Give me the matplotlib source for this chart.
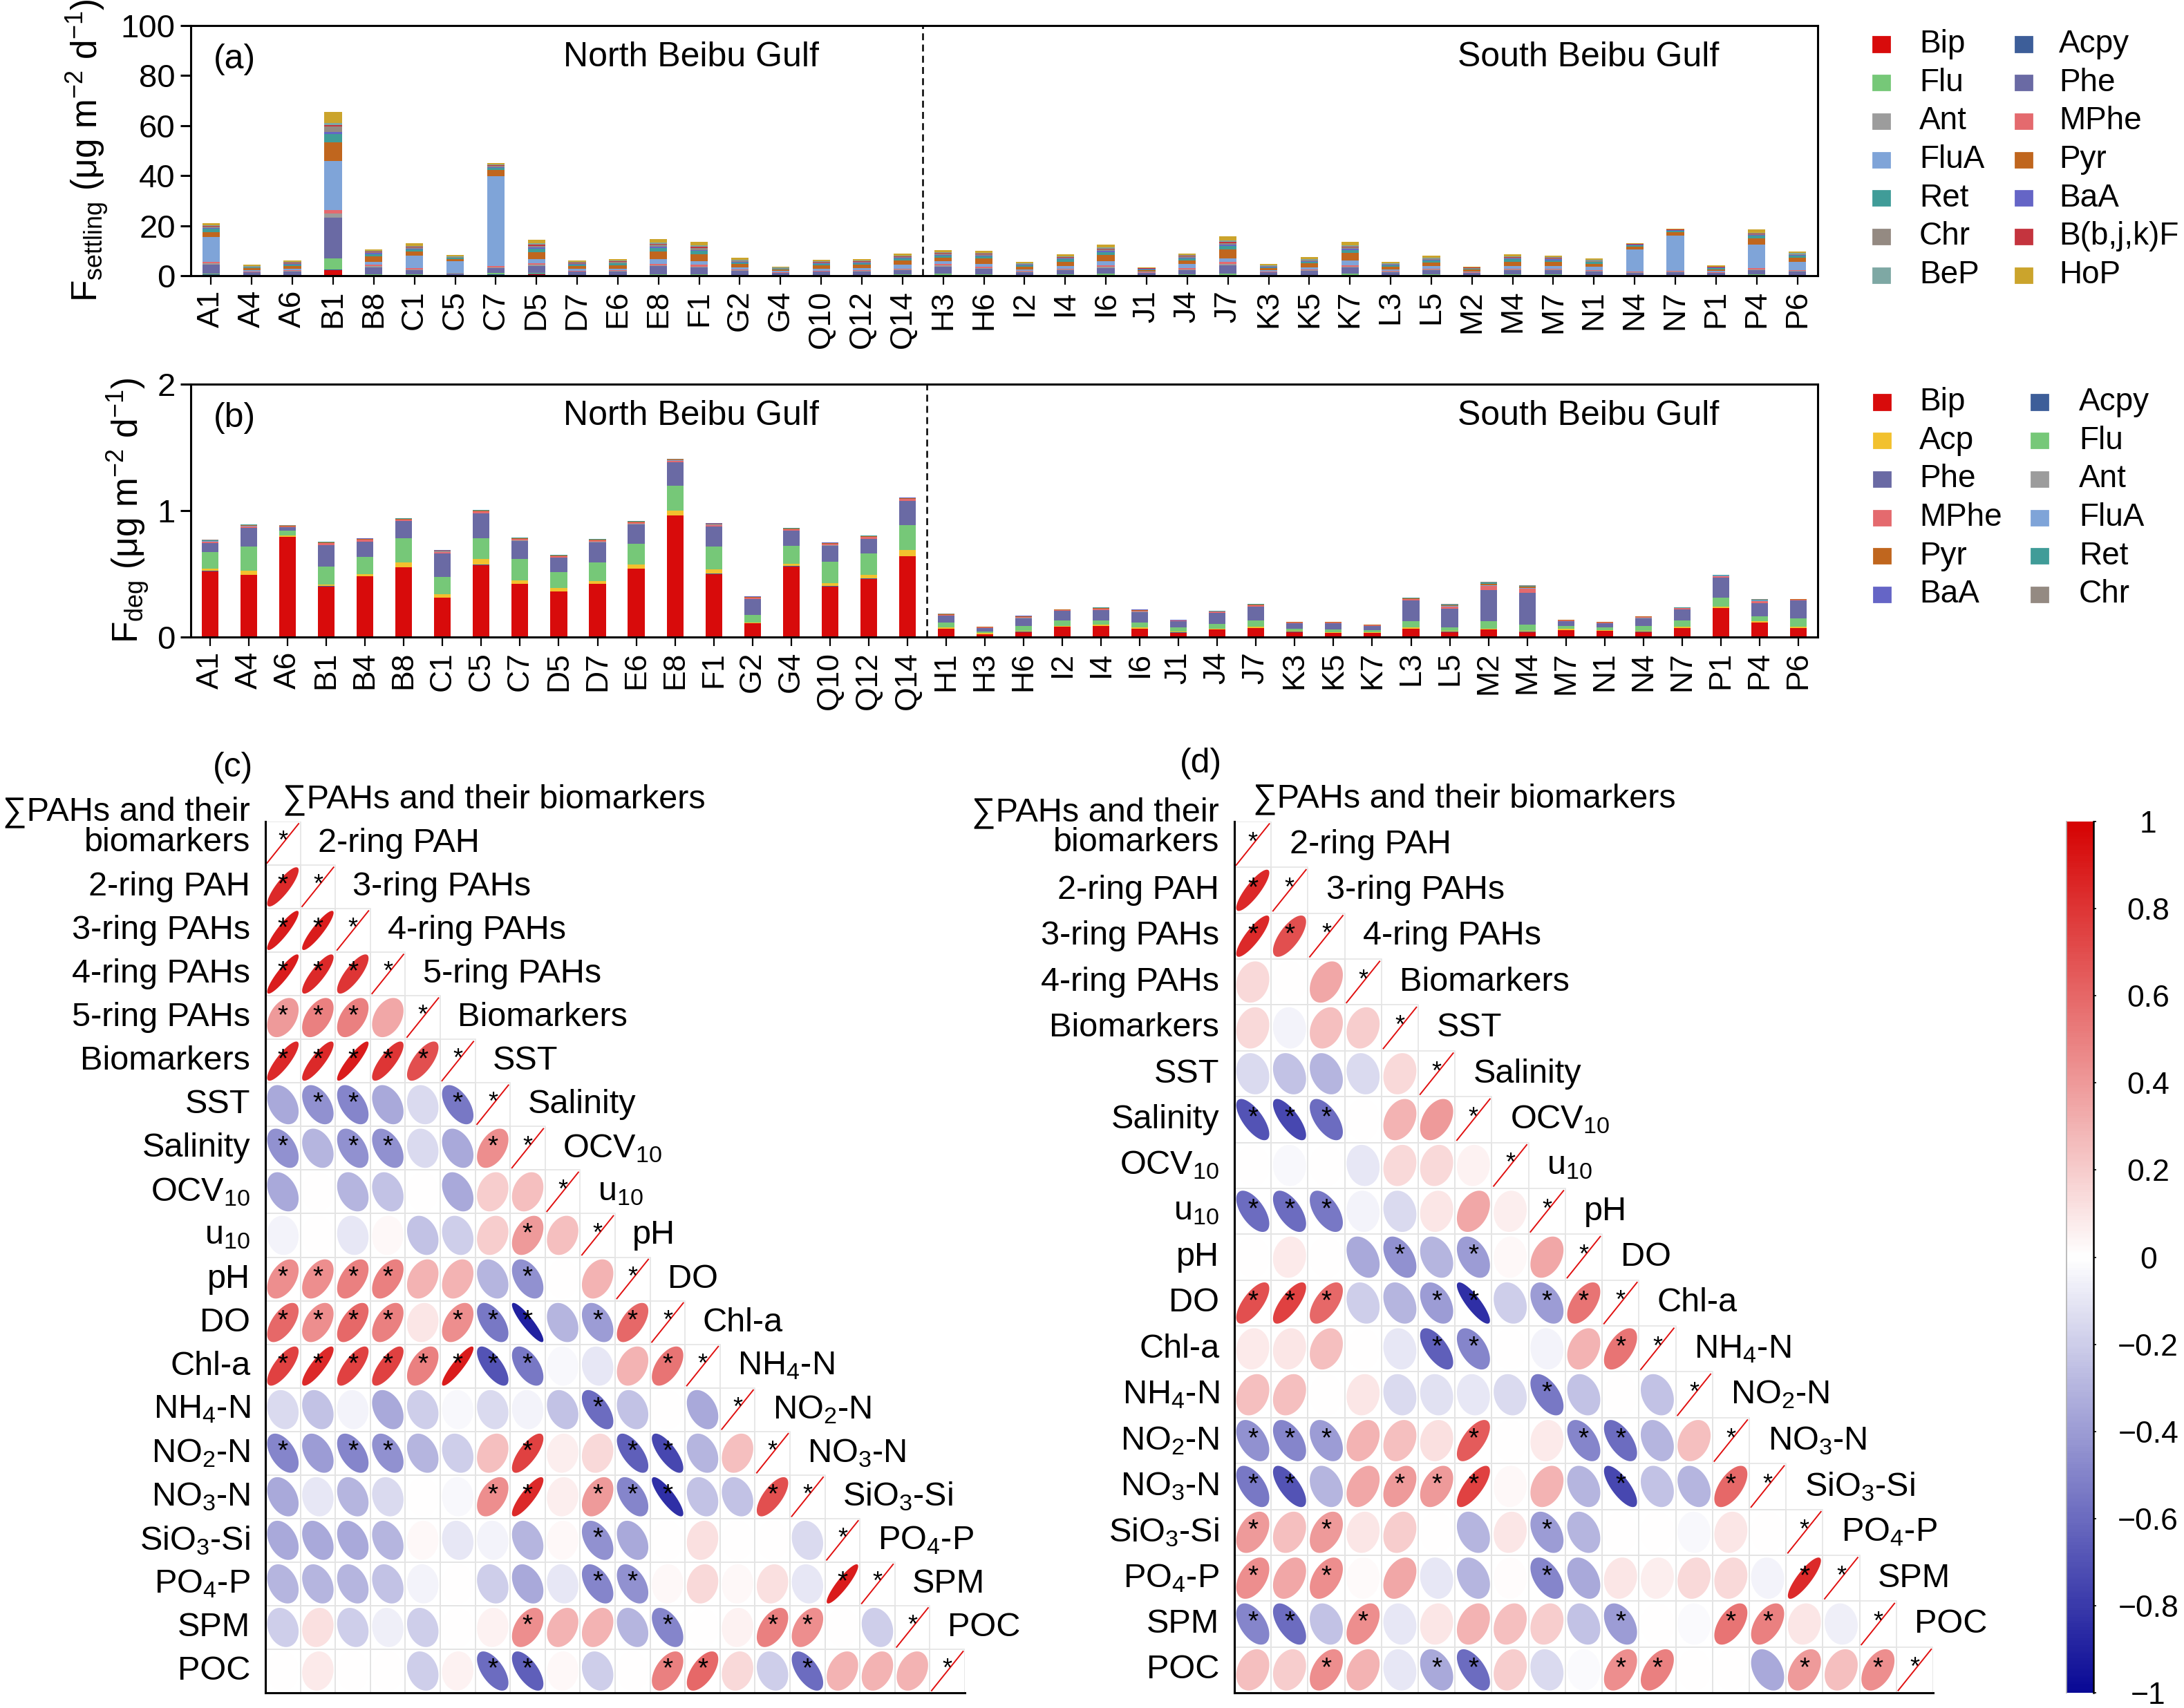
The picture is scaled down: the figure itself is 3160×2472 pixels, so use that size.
import numpy as np
import matplotlib
matplotlib.use("Agg")
import matplotlib.pyplot as plt
from matplotlib.colors import LinearSegmentedColormap
from matplotlib.patches import Polygon, Rectangle

plt.rcParams["font.family"] = ["Liberation Sans", "DejaVu Sans"]
plt.rcParams["mathtext.default"] = "regular"

W, H = 3160, 2472
fig = plt.figure(figsize=(15.8, 12.36), dpi=200)


def box(l, t, r, b):
    return [l / W, 1 - b / H, (r - l) / W, (b - t) / H]


def px(x, y):
    return x / W, 1 - y / H


# ---------------- data: panel (a) settling flux ----------------
sta_a = ["A1", "A4", "A6", "B1", "B8", "C1", "C5", "C7", "D5", "D7", "E6", "E8", "F1", "G2", "G4",
         "Q10", "Q12", "Q14", "H3", "H6", "I2", "I4", "I6", "J1", "J4", "J7", "K3", "K5", "K7",
         "L3", "L5", "M2", "M4", "M7", "N1", "N4", "N7", "P1", "P4", "P6"]
set_Bip = [.3, .1, .1, 2.3, .2, .1, .1, .3, .6, .1, .1, .2, .2, .1, .05, .1, .1, .1,
           .1, .1, .05, .1, .2, .05, .1, .2, .05, .1, .2, .05, .1, .05, .1, .1, .1, .1, .1, .05, .1, .1]
set_Acpy = [.2, .05, .05, .3, .1, .1, .05, .2, .1, .05, .05, .1, .1, .05, .05, .05, .05, .1,
            .1, .1, .05, .1, .1, .05, .1, .1, .05, .05, .1, .05, .1, .05, .1, .1, .05, .1, .1, .05, .1, .1]
set_Flu = [.4, .2, .25, 4.2, .3, .3, .15, .5, .3, .2, .25, .3, .3, .2, .1, .2, .2, .3,
           .5, .3, .2, .3, .4, .1, .3, .5, .15, .25, .4, .2, .3, .1, .3, .3, .25, .2, .2, .1, .3, .2]
set_Phe = [3.5, 1.0, 1.3, 16.5, 2.8, 1.8, .6, 2.0, 3.0, 1.2, 1.2, 3.2, 2.6, 1.6, .8, 1.2, 1.3, 1.6,
           3.0, 2.2, 1.1, 1.6, 2.4, .8, 1.8, 3.3, 1.0, 1.5, 2.5, 1.1, 1.6, .8, 1.6, 1.7, 1.3, .8, .9, .8, 1.8, 1.2]
set_Ant = [.5, .1, .2, 1.5, .4, .3, .1, .4, .5, .2, .2, .4, .5, .2, .1, .2, .2, .3,
           .4, .4, .2, .3, .4, .1, .3, .6, .15, .25, .4, .2, .3, .1, .3, .3, .25, .2, .3, .15, .3, .2]
set_MPhe = [.6, .2, .3, 1.5, .6, .4, .1, .5, .6, .3, .3, .6, .6, .4, .2, .3, .3, .4,
            .6, .5, .3, .4, .6, .2, .4, .8, .25, .35, .6, .3, .4, .2, .4, .4, .35, .2, .3, .2, .4, .3]
set_FluA = [10.0, .5, .7, 19.5, 1.2, 5.0, 4.6, 36.0, 1.5, .6, .8, 1.8, 1.4, .9, .5, .8, .8, 1.6,
            1.0, 1.2, .6, 1.2, 1.6, .4, 1.6, 1.5, .5, .9, 1.9, .6, 1.0, .4, 1.2, .9, 1.4, 9.0, 14.0, .5, 9.5, 3.5]
set_Pyr = [2.0, .8, 1.1, 7.5, 2.2, 1.8, 1.0, 2.4, 2.8, 1.2, 1.3, 3.2, 3.0, 1.3, .6, 1.3, 1.4, 1.6,
           1.5, 2.0, 1.0, 1.6, 2.6, .6, 1.6, 3.5, .8, 1.5, 3.0, 1.0, 1.5, .7, 1.6, 1.6, 1.1, 1.0, 1.4, .7, 2.4, 1.7]
set_Ret = [1.2, .3, .5, 3.2, .9, .8, .4, .9, 1.3, .6, .7, 1.3, 1.2, .6, .3, .6, .6, .8,
           .9, .9, .6, .9, 1.2, .3, .8, 1.3, .4, .7, 1.2, .6, .8, .4, .9, .8, .6, .5, .6, .5, 1.0, .7]
set_BaA = [.3, .1, .2, 1.0, .3, .3, .1, .3, .5, .2, .2, .5, .4, .2, .1, .2, .2, .3,
           .3, .3, .2, .3, .4, .1, .3, .5, .15, .25, .4, .2, .3, .1, .3, .3, .2, .2, .2, .15, .3, .2]
set_Chr = [.5, .2, .3, 2.2, .5, .5, .2, .5, .8, .3, .4, .8, .8, .4, .2, .4, .4, .4,
           .4, .5, .3, .5, .6, .2, .5, .8, .25, .4, .6, .3, .4, .2, .5, .4, .4, .2, .2, .25, .4, .3]
set_BbjkF = [.3, .1, .2, .6, .2, .3, .1, .2, .4, .2, .2, .4, .4, .2, .1, .2, .2, .2,
             .2, .3, .2, .2, .3, .1, .2, .4, .15, .2, .3, .2, .2, .1, .2, .2, .2, .1, .1, .1, .2, .2]
set_BeP = [.4, .2, .3, .8, .3, .3, .2, .3, .5, .3, .3, .5, .6, .3, .1, .3, .3, .3,
           .3, .3, .2, .3, .4, .1, .2, .6, .2, .3, .5, .2, .3, .1, .3, .3, .2, .2, .2, .15, .3, .3]
set_HoP = [.8, .45, .5, 4.5, .6, 1.0, .5, .6, 1.6, .55, .6, 1.4, 1.4, .85, .4, .55, .55, .8,
           .8, .8, .5, .7, 1.2, .3, .6, 1.6, .5, .65, 1.3, .5, .7, .4, .7, .6, .5, .3, .3, .4, 1.3, .7]

# ---------------- data: panel (b) degradation flux ----------------
sta_b = ["A1", "A4", "A6", "B1", "B4", "B8", "C1", "C5", "C7", "D5", "D7", "E6", "E8", "F1", "G2",
         "G4", "Q10", "Q12", "Q14", "H1", "H3", "H6", "I2", "I4", "I6", "J1", "J4", "J7", "K3",
         "K5", "K7", "L3", "L5", "M2", "M4", "M7", "N1", "N4", "N7", "P1", "P4", "P6"]
deg_Bip = [.52, .49, .79, .40, .48, .55, .31, .57, .42, .36, .42, .54, .96, .50, .107, .56, .40, .46, .64,
           .067, .022, .040, .082, .086, .064, .035, .058, .071, .040, .031, .031, .067, .040, .058,
           .040, .053, .049, .040, .071, .227, .113, .071]
deg_Acpy = [.002, .002, .001, .002, .002, .002, .002, .002, .002, .002, .002, .002, .002, .002, .001,
            .002, .002, .002, .002, .001, .001, .001, .001, .001, .001, .001, .001, .001, .001, .001,
            .001, .001, .001, .001, .001, .001, .001, .001, .001, .001, .001, .001]
deg_Acp = [.02, .035, .015, .013, .013, .036, .027, .046, .025, .025, .022, .033, .036, .031, .009,
           .018, .022, .029, .045, .009, .009, .009, .007, .009, .009, .009, .009, .011, .009, .007,
           .005, .009, .009, .009, .009, .009, .007, .009, .011, .010, .009, .011]
deg_Flu = [.13, .19, .035, .14, .14, .195, .137, .164, .173, .124, .145, .164, .201, .184, .057, .144,
           .173, .171, .20, .037, .009, .037, .042, .036, .040, .032, .037, .049, .018, .020, .017,
           .046, .027, .055, .051, .024, .020, .037, .049, .076, .040, .067]
deg_Phe = [.07, .145, .028, .173, .12, .133, .185, .196, .142, .115, .162, .154, .182, .155, .125,
           .118, .127, .115, .191, .054, .031, .063, .073, .082, .085, .046, .087, .109, .040, .049,
           .033, .164, .146, .246, .249, .036, .031, .063, .087, .155, .106, .137]
deg_Ant = [.001, .001, .001, .001, .001, .001, .001, .001, .001, .001, .001, .001, .001, .001, .001,
           .001, .001, .001, .001, .001, .001, .001, .001, .001, .001, .001, .001, .001, .001, .001,
           .001, .001, .001, .002, .002, .001, .001, .001, .001, .001, .001, .001]
deg_MPhe = [.012, .014, .006, .012, .012, .012, .012, .014, .012, .013, .012, .012, .013, .013, .010,
            .010, .011, .013, .012, .007, .005, .008, .007, .009, .008, .005, .007, .009, .006, .006,
            .005, .013, .018, .032, .028, .007, .006, .007, .007, .012, .014, .007]
deg_FluA = [.002, .003, .001, .002, .002, .002, .002, .003, .002, .002, .002, .002, .002, .003, .002,
            .002, .002, .003, .002, .001, .001, .002, .001, .002, .002, .001, .001, .002, .001, .001,
            .001, .002, .004, .006, .006, .001, .001, .001, .001, .002, .003, .001]
deg_Pyr = [.005, .005, .002, .005, .005, .005, .005, .006, .005, .005, .005, .005, .005, .005, .004,
           .004, .004, .005, .005, .003, .002, .003, .003, .004, .003, .002, .003, .004, .002, .002,
           .002, .005, .007, .013, .011, .003, .002, .003, .003, .005, .005, .003]
deg_Ret = [.004, .004, .002, .004, .003, .003, .004, .004, .004, .004, .004, .004, .004, .004, .003,
           .003, .003, .004, .003, .002, .001, .002, .002, .003, .002, .001, .002, .003, .002, .002,
           .001, .004, .005, .009, .008, .002, .002, .002, .002, .003, .004, .002]
deg_BaA = [.001, .001, .001, .001, .001, .001, .001, .001, .001, .001, .001, .001, .001, .001, .001,
           .001, .001, .001, .001, .001, .001, .001, .001, .001, .001, .001, .001, .001, .001, .001,
           .001, .001, .001, .002, .002, .001, .001, .001, .001, .001, .001, .001]
deg_Chr = [.001, .001, .001, .001, .001, .001, .001, .001, .001, .001, .001, .001, .001, .001, .001,
           .001, .001, .001, .001, .001, .001, .001, .001, .001, .001, .001, .001, .001, .001, .001,
           .001, .001, .001, .003, .003, .001, .001, .001, .001, .001, .001, .001]

colors = {"Bip": "#d80b0b", "Acpy": "#3d5e99", "Acp": "#f2c12e", "Flu": "#76c878", "Phe": "#6a6aa4",
          "Ant": "#9c9c9c", "MPhe": "#e46a6e", "FluA": "#7fa4d8", "Pyr": "#c0661e", "Ret": "#409c98",
          "BaA": "#6565c6", "Chr": "#948a82", "BbjkF": "#c4343e", "BeP": "#7ea8a4", "HoP": "#cba42c"}
labels = {"BbjkF": "B(b,j,k)F"}

comp_a = [("Bip", set_Bip), ("Acpy", set_Acpy), ("Flu", set_Flu), ("Phe", set_Phe), ("Ant", set_Ant),
          ("MPhe", set_MPhe), ("FluA", set_FluA), ("Pyr", set_Pyr), ("Ret", set_Ret), ("BaA", set_BaA),
          ("Chr", set_Chr), ("BbjkF", set_BbjkF), ("BeP", set_BeP), ("HoP", set_HoP)]
comp_b = [("Bip", deg_Bip), ("Acpy", deg_Acpy), ("Acp", deg_Acp), ("Flu", deg_Flu), ("Phe", deg_Phe),
          ("Ant", deg_Ant), ("MPhe", deg_MPhe), ("FluA", deg_FluA), ("Pyr", deg_Pyr), ("Ret", deg_Ret),
          ("BaA", deg_BaA), ("Chr", deg_Chr)]

# ---------------- data: correlation panels ----------------
names_c = ["∑PAHs and their biomarkers", "2-ring PAH", "3-ring PAHs", "4-ring PAHs", "5-ring PAHs",
           "Biomarkers", "SST", "Salinity", "OCV$_{10}$", "u$_{10}$", "pH", "DO", "Chl-a", "NH$_4$-N",
           "NO$_2$-N", "NO$_3$-N", "SiO$_3$-Si", "PO$_4$-P", "SPM", "POC"]
r_c = [
    [],
    [0.85],
    [0.9, 0.9],
    [0.9, 0.85, 0.8],
    [0.4, 0.5, 0.5, 0.35],
    [0.85, 0.85, 0.9, 0.8, 0.7],
    [-0.35, -0.45, -0.5, -0.35, -0.15, -0.55],
    [-0.45, -0.3, -0.45, -0.45, -0.15, -0.35, 0.45],
    [-0.35, 0.0, -0.3, -0.25, 0.0, -0.35, 0.2, 0.25],
    [-0.05, 0.0, -0.1, 0.03, -0.25, -0.2, 0.2, 0.4, 0.25],
    [0.45, 0.45, 0.5, 0.5, 0.3, 0.3, -0.3, -0.45, 0.0, 0.3],
    [0.6, 0.45, 0.6, 0.5, 0.1, 0.45, -0.55, -0.9, -0.3, -0.4, 0.6],
    [0.75, 0.85, 0.75, 0.75, 0.5, 0.9, -0.7, -0.55, -0.03, -0.1, 0.3, 0.55],
    [-0.15, -0.25, -0.05, -0.35, -0.2, -0.03, -0.15, -0.05, -0.25, -0.6, -0.25, 0.0, -0.35],
    [-0.5, -0.4, -0.5, -0.45, -0.3, -0.2, 0.25, 0.75, 0.07, 0.15, -0.65, -0.75, -0.3, 0.25],
    [-0.35, -0.1, -0.3, -0.15, 0.0, -0.03, 0.45, 0.85, 0.07, 0.4, -0.5, -0.85, -0.25, -0.25, 0.7],
    [-0.35, -0.35, -0.35, -0.3, 0.03, -0.1, -0.05, -0.3, 0.03, -0.45, -0.35, 0.0, 0.12, 0.0, 0.0, -0.15],
    [-0.3, -0.3, -0.3, -0.25, -0.05, 0.0, -0.2, -0.35, -0.1, -0.5, -0.45, 0.03, 0.15, 0.03, 0.12, -0.1, 0.9],
    [-0.2, 0.12, -0.2, -0.07, -0.2, 0.0, 0.05, 0.45, 0.3, 0.3, -0.3, -0.5, 0.0, 0.05, 0.5, 0.45, 0.0, -0.2],
    [0.0, 0.08, 0.0, 0.0, -0.2, 0.05, -0.6, -0.65, 0.03, -0.2, 0.0, 0.5, 0.6, 0.15, -0.2, -0.6, 0.3, 0.3, 0.3],
]
sig_c = [[], [0], [0, 1], [0, 1, 2], [0, 1, 2], [0, 1, 2, 3, 4], [1, 2, 5], [0, 2, 3, 6], [], [7],
         [0, 1, 2, 3, 7], [0, 1, 2, 3, 5, 6, 7, 9, 10], [0, 1, 2, 3, 4, 5, 6, 7, 11], [9],
         [0, 2, 3, 7, 10, 11], [6, 7, 9, 10, 11, 14], [9], [9, 10, 16], [7, 11, 14, 15], [6, 7, 11, 12, 15]]

names_d = ["∑PAHs and their biomarkers", "2-ring PAH", "3-ring PAHs", "4-ring PAHs", "Biomarkers",
           "SST", "Salinity", "OCV$_{10}$", "u$_{10}$", "pH", "DO", "Chl-a", "NH$_4$-N", "NO$_2$-N",
           "NO$_3$-N", "SiO$_3$-Si", "PO$_4$-P", "SPM", "POC"]
r_d = [
    [],
    [0.85],
    [0.85, 0.7],
    [0.15, 0.0, 0.35],
    [0.15, -0.05, 0.25, 0.2],
    [-0.15, -0.25, -0.3, -0.15, 0.15],
    [-0.7, -0.75, -0.6, 0.0, 0.3, 0.4],
    [0.0, -0.03, 0.0, -0.1, 0.15, 0.15, 0.05],
    [-0.6, -0.6, -0.55, -0.05, -0.15, 0.1, 0.35, 0.07],
    [0.0, 0.08, 0.0, -0.35, -0.45, -0.3, -0.4, 0.03, 0.35],
    [0.7, 0.75, 0.6, -0.2, -0.3, -0.4, -0.85, -0.2, -0.4, 0.55],
    [0.08, 0.1, 0.25, 0.0, -0.1, -0.65, -0.5, 0.0, -0.05, 0.3, 0.55],
    [0.25, 0.25, 0.0, 0.1, -0.15, -0.12, -0.1, -0.15, -0.55, -0.25, 0.0, -0.25],
    [-0.45, -0.5, -0.4, 0.3, 0.25, 0.12, 0.65, 0.0, 0.08, -0.5, -0.6, -0.3, 0.25],
    [-0.55, -0.7, -0.3, 0.35, 0.4, 0.4, 0.75, 0.03, 0.3, -0.3, -0.75, -0.25, -0.3, 0.6],
    [0.4, 0.25, 0.4, 0.1, 0.2, 0.0, -0.3, 0.1, -0.4, -0.3, 0.0, 0.0, -0.03, 0.1, 0.0],
    [0.45, 0.35, 0.45, 0.02, 0.35, -0.1, -0.3, 0.01, -0.5, -0.35, 0.1, 0.07, 0.15, 0.15, -0.05, 0.85],
    [-0.5, -0.6, -0.25, 0.45, -0.1, 0.1, 0.3, 0.25, 0.2, -0.25, -0.4, 0.0, -0.02, 0.55, 0.5, 0.1, -0.07],
    [0.25, 0.2, 0.45, 0.3, -0.1, -0.35, -0.6, 0.2, -0.15, -0.02, 0.45, 0.5, 0.0, 0.0, -0.35, 0.4, 0.25, 0.45],
]
sig_d = [[], [0], [0, 1], [], [], [], [0, 1, 2], [], [0, 1, 2], [4, 6], [0, 1, 2, 5, 6, 8, 9],
         [5, 6, 10], [8], [0, 1, 2, 6, 9, 10], [0, 1, 4, 5, 6, 10, 13], [0, 2, 8], [0, 2, 8, 15],
         [0, 1, 3, 10, 13, 14], [2, 5, 6, 10, 11, 15, 17]]

cmap = LinearSegmentedColormap.from_list("bwr_corr", ["#0a0a96", "#ffffff", "#d60404"])


# ---------------- stacked bar panels ----------------
def bar_panel(rect, stations, comps, ymax, yticks, split, tag, ylab, ylab_x):
    ax = fig.add_axes(rect)
    x = np.arange(len(stations))
    bottom = np.zeros(len(stations))
    for name, vals in comps:
        vals = np.array(vals)
        ax.bar(x, vals, 0.43, bottom=bottom, color=colors[name], linewidth=0)
        bottom += vals
    ax.set_xlim(-0.5, len(stations) - 0.5)
    ax.set_ylim(0, ymax)
    ax.set_yticks(yticks)
    ax.set_xticks(x)
    ax.set_xticklabels(stations, rotation=90)
    ax.tick_params(axis="y", length=5.5, width=1.1, labelsize=17, pad=2.5)
    ax.tick_params(axis="x", length=4.5, width=0.8, labelsize=16, pad=3)
    for s in ax.spines.values():
        s.set_linewidth(1.1)
    ax.axvline(split - 0.5, color="black", lw=0.9, ls=(0, (4, 2.5)))
    ax.text(0.014, 0.865, tag, transform=ax.transAxes, fontsize=18, va="center")
    ax.text(0.3075, 0.873, "North Beibu Gulf", transform=ax.transAxes, fontsize=18,
            ha="center", va="center")
    ax.text(0.859, 0.873, "South Beibu Gulf", transform=ax.transAxes, fontsize=18,
            ha="center", va="center")
    yc = 1 - (rect[1] + rect[3] / 2)
    fig.text(ylab_x / W, 1 - yc, ylab, rotation=90, ha="center", va="center", fontsize=18.5)
    return ax


def legend_block(comps, y0, xm, xt):
    for k, (name, _) in enumerate(comps):
        row, col = divmod(k, 2)
        y = y0 + row * 55.7
        fig.add_artist(Rectangle(px(xm[col] - 12, y + 10.5), 24 / W, 21 / H,
                                 color=colors[name], transform=fig.transFigure))
        fig.text(*px(xt[col], y), labels.get(name, name), ha="left", va="center", fontsize=16.5)


bar_panel(box(276, 37, 2630, 399), sta_a, comp_a, 100, [0, 20, 40, 60, 80, 100], 18, "(a)",
          r"F$_{settling}$ (μg m$^{-2}$ d$^{-1}$)", 127)
legend_block(comp_a, 64, (2722, 2928), (2777, 2979))

bar_panel(box(276, 556, 2630, 922), sta_b, comp_b, 2, [0, 1, 2], 19, "(b)",
          r"F$_{deg}$ (μg m$^{-2}$ d$^{-1}$)", 186)
legend_block(comp_b, 582, (2723, 2951), (2777, 3008))


# ---------------- correlation ellipse panels ----------------
def ellipse_xy(r, cx, cy, s=0.45):
    t = np.linspace(0, 2 * np.pi, 80)
    a = np.arccos(np.clip(r, -1, 1)) / 2
    return np.column_stack([cx + s * np.cos(t + a), cy - s * np.cos(t - a)])


def corr_panel(rect, names, rows, sigs, tag, tag_xy, lab_gap):
    n = len(names)
    ax = fig.add_axes(rect)
    ax.set_xlim(0, n)
    ax.set_ylim(n, 0)
    ax.set_xticks([])
    ax.set_yticks([])
    ax.spines["top"].set_visible(False)
    ax.spines["right"].set_visible(False)
    ax.spines["left"].set_linewidth(1.1)
    ax.spines["bottom"].set_linewidth(1.1)
    for i in range(n):
        for j in range(i + 1):
            ax.add_patch(Rectangle((j, i), 1, 1, fill=False, ec="#e4e4e4", lw=0.6))
        for j, r in enumerate(rows[i]):
            ax.add_patch(Polygon(ellipse_xy(r, j + 0.5, i + 0.5), closed=True,
                                 fc=cmap((r + 1) / 2), ec="none"))
            if j in sigs[i]:
                ax.text(j + 0.5, i + 0.47, "*", ha="center", va="center", fontsize=14)
        ax.plot([i + 0.05, i + 0.95], [i + 0.95, i + 0.05], color="#e01010", lw=0.7)
        ax.text(i + 0.5, i + 0.47, "*", ha="center", va="center", fontsize=13)
        lab = names[i].replace("their ", "their\n") if i == 0 else names[i]
        ax.text(-lab_gap, i + 0.5 - (0.37 if i == 0 else 0), lab, ha="right", va="center",
                fontsize=17.5, linespacing=0.95)
        ax.text(i + 0.5, i - 0.5, names[i], ha="left", va="center", fontsize=17.5)
    fig.text(*px(*tag_xy), tag, ha="center", va="center", fontsize=18)
    return ax


corr_panel(box(384, 1189, 1396, 2450), names_c, r_c, sig_c, "(c)", (337, 1111), 0.43)
corr_panel(box(1786, 1189, 2797, 2450), names_d, r_d, sig_d, "(d)", (1737, 1105), 0.41)

# colour bar
cax = fig.add_axes(box(2990, 1189, 3029, 2450))
cax.imshow(np.linspace(1, -1, 400)[:, None], aspect="auto", cmap=cmap, vmin=-1, vmax=1,
           extent=[0, 1, -1, 1])
cax.set_xticks([])
cax.yaxis.tick_right()
cb_ticks = [-1, -0.8, -0.6, -0.4, -0.2, 0, 0.2, 0.4, 0.6, 0.8, 1]
cax.set_yticks(cb_ticks)
cax.set_yticklabels([("%g" % v).replace("-", "−") for v in cb_ticks])
cax.tick_params(axis="y", length=1.5, width=0.6, labelsize=16, pad=27)
for t in cax.get_yticklabels():
    t.set_ha("center")
cax.spines["top"].set_visible(False)
cax.spines["bottom"].set_visible(False)
cax.spines["left"].set_color("#b0b0b0")
cax.spines["left"].set_linewidth(0.6)
cax.spines["right"].set_linewidth(0.9)

fig.savefig("out.png", dpi=200)
